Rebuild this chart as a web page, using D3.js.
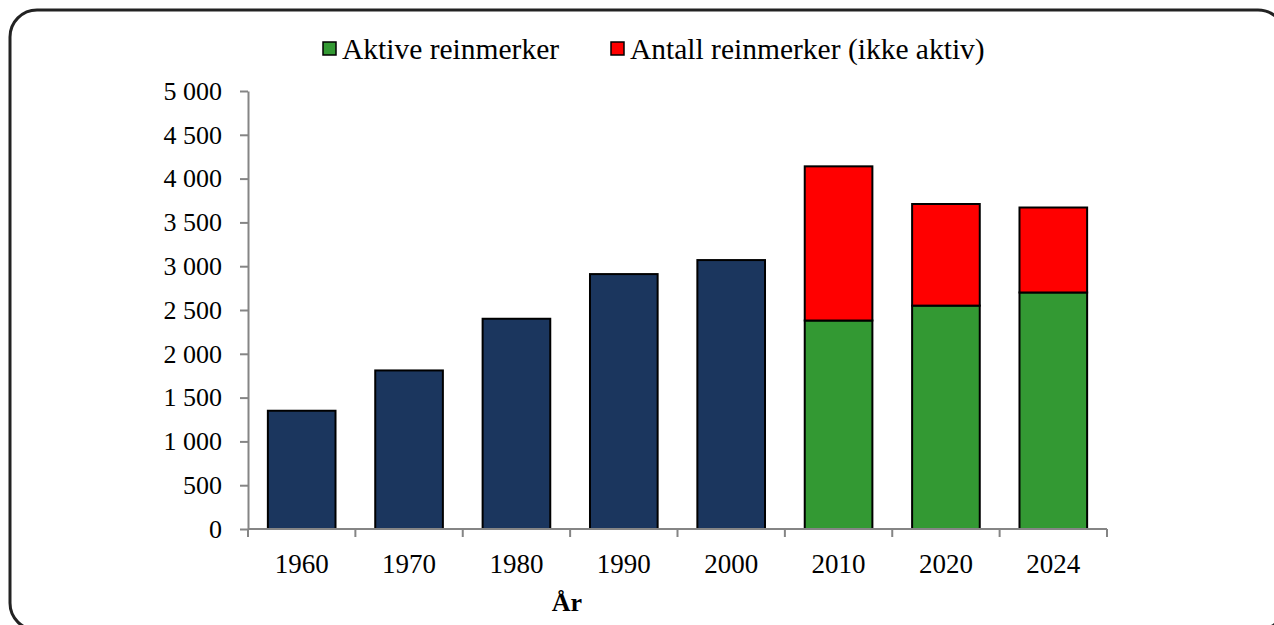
<!DOCTYPE html>
<html>
<head>
<meta charset="utf-8">
<script src="https://cdn.jsdelivr.net/npm/d3@7"></script>
<style>
  html, body { margin: 0; padding: 0; background: #fff; }
  svg { display: block; }
  text { font-family: "Liberation Serif", "Times New Roman", serif; fill: #000; }
</style>
</head>
<body>
<svg id="chart" width="1274" height="625"></svg>
<script>
// Reindeer earmarks per year
const years = ["1960", "1970", "1980", "1990", "2000", "2010", "2020", "2024"];
const totalOnly = [1350, 1810, 2400, 2910, 3070, null, null, null];   // single total (before split)
const active = [null, null, null, null, null, 2380, 2550, 2700];       // Aktive reinmerker
const inactive = [null, null, null, null, null, 1760, 1160, 970];      // Antall reinmerker (ikke aktiv)
const yTicks = [0, 500, 1000, 1500, 2000, 2500, 3000, 3500, 4000, 4500, 5000];
const legendLabels = ["Aktive reinmerker", "Antall reinmerker (ikke aktiv)"];
const xTitle = "År";

const colors = { total: "#1b365e", active: "#339933", inactive: "#ff0000" };

const svg = d3.select("#chart");

// outer rounded frame
svg.append("rect")
  .attr("x", 10).attr("y", 10)
  .attr("width", 1275).attr("height", 620)
  .attr("rx", 27).attr("ry", 27)
  .attr("fill", "#fff")
  .attr("stroke", "#222").attr("stroke-width", 3);

const plot = { left: 248, right: 1107, top: 91, bottom: 529 };

const x = d3.scaleBand().domain(years).range([plot.left, plot.right]).paddingInner(0.37).paddingOuter(0.185);
const y = d3.scaleLinear().domain([0, 5000]).range([plot.bottom, plot.top]);

const fmt = v => d3.format(",")(v).replace(/,/g, " ");

// y axis
const yAxis = svg.append("g")
  .attr("transform", `translate(${plot.left},0)`)
  .call(d3.axisLeft(y).tickValues(yTicks).tickFormat(fmt).tickSize(8).tickPadding(18).tickSizeOuter(0));
yAxis.select(".domain").attr("stroke", "#858585").attr("stroke-width", 2);
yAxis.selectAll(".tick line").attr("stroke", "#858585").attr("stroke-width", 2);
yAxis.selectAll("text").attr("font-size", 26).attr("font-family", "Liberation Serif").attr("fill", "#000");

// bars
const g = svg.append("g");
years.forEach((yr, i) => {
  const bx = x(yr), bw = x.bandwidth();
  if (totalOnly[i] != null) {
    g.append("rect")
      .attr("x", bx).attr("y", y(totalOnly[i]))
      .attr("width", bw).attr("height", y(0) - y(totalOnly[i]))
      .attr("fill", colors.total).attr("stroke", "#000").attr("stroke-width", 2);
  } else {
    const a = active[i], b = inactive[i];
    g.append("rect")
      .attr("x", bx).attr("y", y(a))
      .attr("width", bw).attr("height", y(0) - y(a))
      .attr("fill", colors.active).attr("stroke", "#000").attr("stroke-width", 2);
    g.append("rect")
      .attr("x", bx).attr("y", y(a + b))
      .attr("width", bw).attr("height", y(a) - y(a + b))
      .attr("fill", colors.inactive).attr("stroke", "#000").attr("stroke-width", 2);
  }
});

// x axis with ticks at category boundaries
const xAxisG = svg.append("g").attr("transform", `translate(0,${plot.bottom})`);
xAxisG.append("line")
  .attr("x1", plot.left).attr("x2", plot.right)
  .attr("stroke", "#858585").attr("stroke-width", 2);
const boundaries = d3.range(years.length + 1).map(k => plot.left + k * (plot.right - plot.left) / years.length);
xAxisG.selectAll("line.tk").data(boundaries).enter().append("line")
  .attr("class", "tk")
  .attr("x1", d => d).attr("x2", d => d)
  .attr("y1", 0).attr("y2", 8)
  .attr("stroke", "#858585").attr("stroke-width", 2);
xAxisG.selectAll("text.lbl").data(years).enter().append("text")
  .attr("class", "lbl")
  .attr("x", d => x(d) + x.bandwidth() / 2)
  .attr("y", 44)
  .attr("text-anchor", "middle")
  .attr("font-size", 27)
  .text(d => d);

// x axis title
svg.append("text")
  .attr("x", 567).attr("y", 611)
  .attr("text-anchor", "middle")
  .attr("font-size", 26).attr("font-weight", "bold")
  .text(xTitle);

// legend
const legendItems = [
  { label: legendLabels[0], color: colors.active, x: 323 },
  { label: legendLabels[1], color: colors.inactive, x: 611 }
];
legendItems.forEach(it => {
  svg.append("rect")
    .attr("x", it.x).attr("y", 42)
    .attr("width", 13).attr("height", 13)
    .attr("fill", it.color).attr("stroke", "#000").attr("stroke-width", 1.5);
  svg.append("text")
    .attr("x", it.x + 19).attr("y", 59)
    .attr("font-size", 29.5)
    .text(it.label);
});
</script>
</body>
</html>
